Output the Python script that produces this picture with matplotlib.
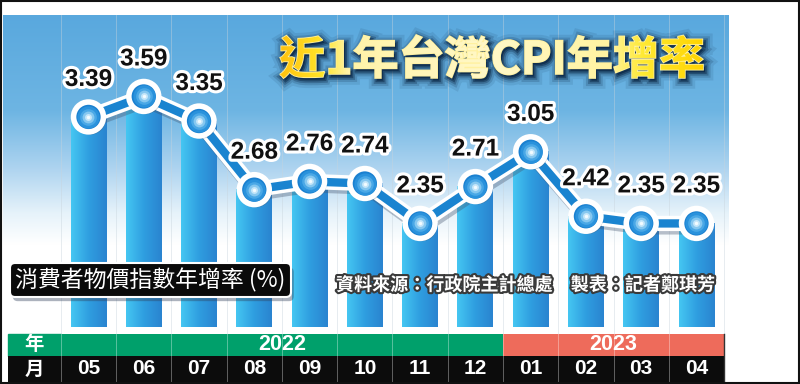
import numpy as np
import matplotlib
matplotlib.use('Agg')
import matplotlib.pyplot as plt
from matplotlib import patheffects as pe
from matplotlib.patches import Rectangle, FancyBboxPatch, PathPatch
from matplotlib.textpath import TextPath
from matplotlib.font_manager import FontProperties
from matplotlib.transforms import Affine2D, blended_transform_factory
from matplotlib.colors import LinearSegmentedColormap

# data
months = ['05', '06', '07', '08', '09', '10', '11', '12', '01', '02', '03', '04']
years = ['2022'] * 8 + ['2023'] * 4
cpi = [3.39, 3.59, 3.35, 2.68, 2.76, 2.74, 2.35, 2.71, 3.05, 2.42, 2.35, 2.35]

title = '近1年台灣CPI年增率'
unit_label = '消費者物價指數年增率 (%)'
source = '資料來源：行政院主計總處　製表：記者鄭琪芳'
year_colors = {'2022': '#00a06b', '2023': '#ee6b5b'}

CJK = 'Noto Sans CJK TC'
NUM = 'Liberation Sans'
W, H = 800, 384

fig = plt.figure(figsize=(8, 3.84), dpi=100)

# background layer in pixel coordinates
bg = fig.add_axes([0, 0, 1, 1], zorder=0)
bg.set_xlim(0, W)
bg.set_ylim(H, 0)
bg.axis('off')

# vertical blue -> white gradient of the panel
stops = [(0.0, (0.35, 0.66, 0.87)), (0.30, (0.43, 0.71, 0.89)),
         (0.48, (0.68, 0.83, 0.94)), (0.62, (0.90, 0.95, 0.98)),
         (0.72, (1, 1, 1)), (1.0, (1, 1, 1))]
sky = LinearSegmentedColormap.from_list('sky', stops)
bg.imshow(np.linspace(0, 1, 256)[:, None], extent=(3, 729, 334, 15),
          aspect='auto', cmap=sky, zorder=0)

# data layer
ax = fig.add_axes([0, 0, 1, 1], zorder=1)
ax.patch.set_alpha(0)
ax.axis('off')
x = np.arange(len(months))
base = 1.34
bar_w = 0.65
fy = lambda ypx: 1 - ypx / H
bt = blended_transform_factory(ax.transData, ax.transAxes)

# faint column separators
for b in np.arange(len(months) + 1) - 0.5:
    ax.plot([b, b], [fy(15), fy(334)], transform=bt, color='#c8d4dc', lw=0.6, alpha=0.5, zorder=1)

# bars with horizontal gradient
bar_cmap = LinearSegmentedColormap.from_list('bar', ['#45c6f2', '#2f9ee0', '#2a84d0'])
grad = np.linspace(0, 1, 64)[None, :]
for xi, v in zip(x, cpi):
    ax.imshow(grad, extent=(xi - bar_w / 2, xi + bar_w / 2, base, v),
              aspect='auto', cmap=bar_cmap, zorder=2)

# line: white casing + blue core
ax.plot(x, cpi, color='white', lw=11, solid_capstyle='round', zorder=3,
        path_effects=[pe.SimpleLineShadow(offset=(1.5, -2.5), shadow_color='#40506a', alpha=0.35),
                      pe.Normal()])
ax.plot(x, cpi, color='#1a84d0', lw=6, zorder=3)

# markers with a radial highlight
ax.plot(x, cpi, 'o', ms=21.5, mfc='#1a80d0', mec='white', mew=4, zorder=4,
        path_effects=[pe.SimplePatchShadow(offset=(1.5, -2), shadow_rgbFace='#40506a', alpha=0.35),
                      pe.Normal()])
for ms, c in [(16, '#2a92dc'), (12, '#4aa8e6'), (8.5, '#86c8f0'), (5, '#c4e6f9'), (2.5, '#f2fbff')]:
    ax.plot(x, cpi, 'o', ms=ms, mfc=c, mew=0, zorder=4)

for xi, v in zip(x, cpi):
    ax.annotate(f'{v:.2f}', (xi, v), xytext=(0, 27), textcoords='offset points',
                ha='center', va='center', fontsize=17.5, fontweight='bold', family=NUM,
                color='#111111', zorder=6,
                path_effects=[pe.withStroke(linewidth=4.5, foreground='white')])

# bottom table: year row and month row
lab_l = -1.455
ax.add_patch(Rectangle((lab_l, fy(356)), -0.5 - lab_l, fy(334) - fy(356),
                       transform=bt, color=year_colors['2022'], zorder=2))
for xi, yr in zip(x, years):
    ax.add_patch(Rectangle((xi - 0.5, fy(356)), 1, fy(334) - fy(356),
                           transform=bt, color=year_colors[yr], lw=0, zorder=2))
ax.add_patch(Rectangle((lab_l, fy(382)), len(months) - 0.5 - lab_l, fy(356) - fy(382),
                       transform=bt, color='#0c0c0c', lw=0, zorder=2))
for b in np.arange(len(months) + 1) - 0.5:
    ax.plot([b, b], [fy(382), fy(334)], transform=bt, color='white', lw=0.7, alpha=0.35, zorder=3)

lab_c = (lab_l - 0.5) / 2
ax.text(lab_c, fy(345), '年', transform=bt, ha='center', va='center', color='white',
        fontsize=14, fontweight='bold', family=CJK, zorder=4)
ax.text(lab_c, fy(369), '月', transform=bt, ha='center', va='center', color='white',
        fontsize=14, fontweight='bold', family=CJK, zorder=4)
for yr in dict.fromkeys(years):
    idx = [i for i, y in enumerate(years) if y == yr]
    ax.text(np.mean(idx), fy(345), yr, transform=bt, ha='center', va='center',
            color='white', fontsize=15.5, fontweight='bold', family=NUM, zorder=4)
for xi, m in zip(x, months):
    ax.text(xi, fy(369), m, transform=bt, ha='center', va='center', color='white',
            fontsize=15, fontweight='bold', family=NUM, zorder=4)
ax.plot([len(months) - 0.5] * 2, [fy(382), fy(334)], transform=bt, color='#333333', lw=1, zorder=4)

ax.set_xlim(-1.601, 12.873)
ax.set_ylim(0.782, 4.532)

# foreground layer (pixel coordinates) for title and captions
fg = fig.add_axes([0, 0, 1, 1], zorder=2)
fg.patch.set_alpha(0)
fg.set_xlim(0, W)
fg.set_ylim(H, 0)
fg.axis('off')

# title with a yellow gradient fill and a dark glow
fp = FontProperties(family=CJK, weight='black')
tp = TextPath((0, 0), title, size=46, prop=fp)
ext = tp.get_extents()
t_l, t_r, t_top, t_bot = 280, 703, 35, 78
tr = (Affine2D().translate(-ext.x0, -ext.y0)
      .scale((t_r - t_l) / ext.width, -(t_bot - t_top) / ext.height)
      .translate(t_l, t_bot) + fg.transData)
shadow_tr = tr + Affine2D().translate(2, -2.5)
for lw, a in [(12, 0.10), (8, 0.18), (5, 0.3), (2.5, 0.5)]:
    fg.add_patch(PathPatch(tp, transform=shadow_tr, fc='#0c2846', ec='#0c2846',
                           lw=lw, alpha=a, zorder=2))
title_cmap = LinearSegmentedColormap.from_list(
    'title', [(0.0, '#ffc20e'), (0.10, '#ffe62a'), (0.16, '#fff3a8'), (0.5, '#fff8c8'),
              (0.78, '#fff3a0'), (0.86, '#ffe932'), (1.0, '#ffd400')])
# thin stroke to give the glyphs a heavier look
fg.add_patch(PathPatch(tp, transform=tr, fc='none', ec='#fff1a0', lw=1.2, zorder=3))
im = fg.imshow(np.linspace(0, 1, 256)[None, :], extent=(t_l, t_r, t_bot, t_top),
               aspect='auto', cmap=title_cmap, zorder=3)
clip = PathPatch(tp, transform=tr, fc='none', ec='none')
im.set_clip_path(clip)

# unit label box
fg.add_patch(FancyBboxPatch((10, 263), 281, 34, boxstyle='round,pad=0,rounding_size=5',
                            fc='#0a0a0a', ec='white', lw=1.5, zorder=3,
                            path_effects=[pe.SimplePatchShadow(offset=(2, -3), shadow_rgbFace='#30405a', alpha=0.4),
                                          pe.Normal()]))
fg.text(150, 280, unit_label, ha='center', va='center', color='white', fontsize=16.5,
        family=CJK, fontweight='medium', zorder=4)

fg.text(525, 285, source, ha='center', va='center', color='white', fontsize=13,
        family=CJK, fontweight='bold', zorder=4,
        path_effects=[pe.withStroke(linewidth=3, foreground='#3a3a3a')])

# outer frame
fg.add_patch(Rectangle((0.75, 0.75), W - 1.5, H - 1.5, fill=False, ec='#111111', lw=1.5, zorder=5))

fig.savefig('out.png', dpi=100)
